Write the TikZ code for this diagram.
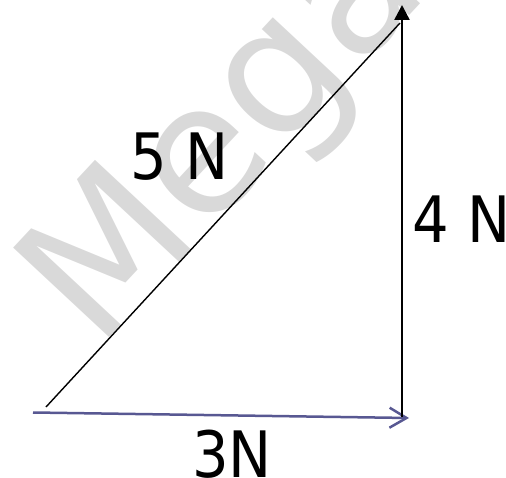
\documentclass[tikz,border=0pt]{standalone}
\usepackage{fontspec}
\setmainfont{DejaVu Sans}[FakeStretch=0.9]
\newfontfamily\stampfont{DejaVu Sans}
\usetikzlibrary{arrows.meta,positioning}
\definecolor{arrowblue}{RGB}{88,88,146}

\begin{document}
\begin{tikzpicture}[
    x=1pt, y=1pt,
    label/.style={font=\fontsize{64}{64}\selectfont, anchor=base, inner sep=0pt},
    stamp/.style={font=\stampfont\fontsize{180}{180}\selectfont, text=black!15, rotate=47, anchor=base west, inner sep=0pt},
    hyp/.style={line width=1.4pt},
    rise/.style={line width=2.5pt, -{Triangle[length=15pt,width=15pt]}},
    run/.style={line width=2.5pt, draw=arrowblue, -{Straight Barb[length=17pt,width=20pt]}}
]
\useasboundingbox (0,0) rectangle (506,477);

% watermark
\node[stamp] (wm) at (97,126) {Mega};

\coordinate (start) at (33,64.5);
\coordinate (corner) at (409,59);
\coordinate (foot) at (402,60);
\coordinate (top) at (402,472);
\coordinate (hypA) at (46,70);
\coordinate (hypB) at (400,454);

\draw[hyp] (hypA) -- (hypB);
\draw[run] (start) -- (corner);
\draw[rise] (foot) -- (top);

\node[label] (five) at (180,297) {5 N};
\node[label] (four) at (462,234) {4 N};
\node[label] (three) at (232,0) {3N};
\end{tikzpicture}
\end{document}
